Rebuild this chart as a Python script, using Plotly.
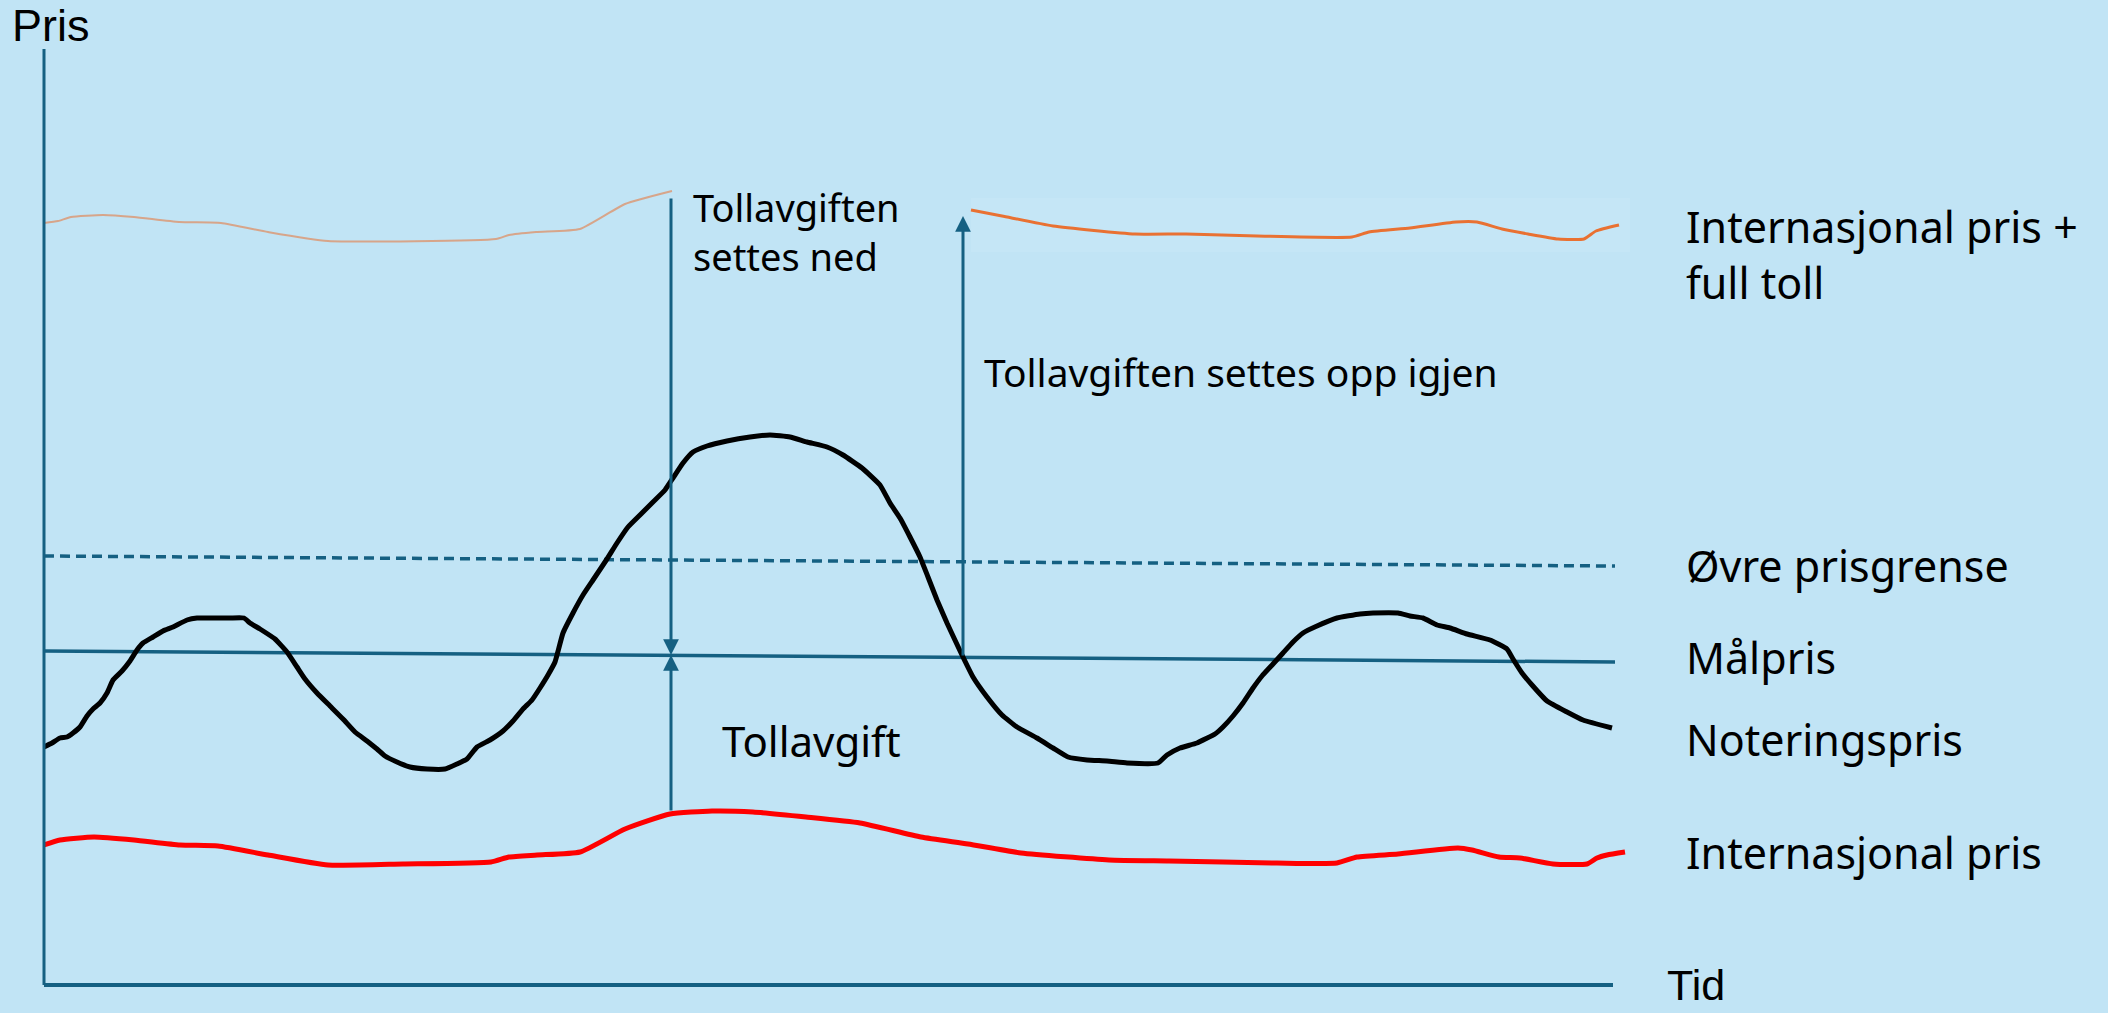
import plotly.graph_objects as go

# ---------------- data (time units, price units) ----------------
time_note = [0.0, 0.8, 1.6, 2.3, 2.9, 3.6, 4.3, 4.9, 5.6, 6.3,
             6.9, 7.8, 8.6, 9.3, 9.9, 10.9, 11.9, 12.9, 14.3, 15.3,
             16.9, 18.6, 20.0, 20.6, 21.6, 23.1, 24.3, 25.3, 26.1, 27.3,
             28.6, 29.9, 31.1, 32.3, 33.3, 34.1, 35.3, 36.6, 38.3, 40.1,
             41.3, 42.3, 43.3, 44.6, 45.9, 46.9, 47.9, 48.8, 49.6, 50.4,
             51.1, 51.9, 52.9, 53.9, 54.9, 56.3, 57.3, 58.4, 59.6, 60.9,
             62.1, 62.9, 63.9, 64.9, 66.3, 68.3, 70.6, 72.6, 74.6, 76.3,
             78.3, 79.9, 81.8, 83.6, 84.6, 85.6, 86.6, 87.6, 88.4, 89.3,
             90.3, 91.8, 92.9, 94.3, 95.8, 97.3, 99.3, 100.9, 102.4, 104.3,
             106.3, 108.3, 111.4, 112.3, 113.6, 115.3, 117.1, 117.9, 118.9, 119.9,
             120.9, 121.8, 122.9, 123.9, 124.9, 125.9, 127.3, 129.3, 131.6, 132.9,
             135.4, 136.6, 137.9, 139.3, 140.6, 142.3, 144.6, 146.3, 146.9, 147.8,
             148.8, 150.3, 152.3, 153.9, 156.8]
price_note = [23.8, 24.2, 24.7, 24.8, 25.2, 25.8, 26.9, 27.6, 28.2, 29.2,
              30.5, 31.4, 32.4, 33.5, 34.2, 34.8, 35.4, 35.8, 36.5, 36.7,
              36.7, 36.7, 36.7, 36.2, 35.6, 34.6, 33.3, 31.8, 30.6, 29.2,
              27.9, 26.6, 25.3, 24.4, 23.6, 22.9, 22.3, 21.8, 21.6, 21.6,
              22.1, 22.6, 23.8, 24.5, 25.4, 26.4, 27.6, 28.5, 29.7, 31.0,
              32.3, 35.2, 37.2, 39.0, 40.5, 42.6, 44.2, 45.8, 47.0, 48.3,
              49.5, 50.7, 52.2, 53.3, 53.9, 54.4, 54.8, 55.0, 54.8, 54.3,
              53.8, 53.0, 51.7, 50.0, 48.2, 46.7, 44.8, 42.8, 40.8, 38.5,
              36.2, 33.0, 30.8, 28.8, 27.0, 25.8, 24.7, 23.7, 22.8, 22.5,
              22.4, 22.2, 22.2, 23.0, 23.7, 24.2, 25.1, 25.8, 26.9, 28.2,
              29.7, 30.9, 32.1, 33.2, 34.3, 35.2, 35.9, 36.7, 37.1, 37.2,
              37.2, 36.9, 36.7, 36.0, 35.7, 35.1, 34.5, 33.6, 32.6, 31.2,
              30.0, 28.4, 27.3, 26.5, 25.7]

time_intl = [0.0, 1.6, 5.0, 9.0, 13.6, 17.4, 22.4, 28.4, 35.9, 44.7,
             46.5, 49.3, 53.6, 58.1, 62.6, 66.8, 70.9, 76.2, 81.6, 87.7,
             92.4, 97.7, 106.5, 112.5, 123.3, 129.3, 131.3, 135.4, 141.4, 142.8,
             145.5, 147.6, 150.9, 154.3, 155.3, 156.3, 158.1]
price_intl = [14.0, 14.5, 14.8, 14.5, 14.0, 13.9, 13.0, 12.0, 12.1, 12.3,
              12.8, 13.0, 13.3, 15.6, 17.1, 17.4, 17.3, 16.8, 16.2, 14.8,
              14.1, 13.2, 12.5, 12.4, 12.2, 12.2, 12.8, 13.1, 13.7, 13.5,
              12.8, 12.7, 12.1, 12.1, 12.7, 13.0, 13.3]

time_full_a = [0.0, 1.4, 2.7, 5.9, 9.0, 13.5, 17.7, 22.4, 28.4, 45.2, 46.5, 49.2, 53.6, 58.1, 62.8]
price_full_a = [76.2, 76.4, 76.8, 77.0, 76.8, 76.3, 76.2, 75.3, 74.4, 74.6, 75.0, 75.3, 75.6, 78.1, 79.4]

time_full_b = [92.7, 95.8, 100.9, 109.1, 114.2, 121.3, 130.8, 132.5, 136.6, 141.2,
               143.3, 145.8, 148.4, 151.4, 154.0, 155.2, 157.5]
price_full_b = [77.5, 76.9, 75.9, 75.1, 75.1, 74.9, 74.8, 75.3, 75.7, 76.3,
                76.3, 75.6, 75.1, 74.6, 74.6, 75.4, 76.0]

time_limits = [0.0, 157.1]
price_target = [33.4, 32.3]      # Målpris
price_upper = [42.9, 41.9]       # Øvre prisgrense

arrow_time = [62.7, 62.7, 91.9]
arrow_from = [78.8, 17.3, 32.8]
arrow_to = [33.0, 33.0, 76.9]

X_MAX = 158.6
Y_MAX = 93.6
AXIS_END = 156.9

BG = "#C1E4F5"
BLUE = "#156082"
ORANGE = "#E97132"
FONT = "Noto Sans"

fig = go.Figure()

fig.add_trace(go.Scatter(x=time_limits, y=price_upper, mode="lines",
                         line=dict(color=BLUE, width=3.5, dash="10px,6px"), hoverinfo="skip"))
fig.add_trace(go.Scatter(x=time_limits, y=price_target, mode="lines",
                         line=dict(color=BLUE, width=3.5), hoverinfo="skip"))
fig.add_trace(go.Scatter(x=time_full_a, y=price_full_a, mode="lines",
                         line=dict(color="rgba(233,113,50,0.55)", width=2, shape="spline", smoothing=0.5),
                         hoverinfo="skip"))
fig.add_trace(go.Scatter(x=time_full_b, y=price_full_b, mode="lines",
                         line=dict(color=ORANGE, width=3, shape="spline", smoothing=0.5), hoverinfo="skip"))
fig.add_trace(go.Scatter(x=time_intl, y=price_intl, mode="lines",
                         line=dict(color="#FF0000", width=5, shape="spline", smoothing=0.5), hoverinfo="skip"))
fig.add_trace(go.Scatter(x=time_note, y=price_note, mode="lines",
                         line=dict(color="#000000", width=5, shape="spline", smoothing=0.4), hoverinfo="skip"))

annotations = []
for t, a, b in zip(arrow_time, arrow_from, arrow_to):
    annotations.append(dict(x=t, y=b, ax=t, ay=a, xref="x", yref="y", axref="x", ayref="y",
                            showarrow=True, arrowhead=2, arrowsize=1.05, arrowwidth=3,
                            arrowcolor=BLUE, text="", standoff=0))


def label(text, x, y, size, xref="paper", yref="y", family=FONT, yanchor="middle"):
    annotations.append(dict(text=text, x=x, y=y, xref=xref, yref=yref, showarrow=False,
                            xanchor="left", yanchor=yanchor, align="left",
                            font=dict(family=family, size=size, color="#000000")))


label("Internasjonal pris +<br>full toll", 1.0340, 73.1, 43)
label("Øvre prisgrense", 1.0340, 42.0, 43)
label("Målpris", 1.0340, 32.8, 43)
label("Noteringspris", 1.0340, 24.6, 43)
label("Internasjonal pris", 1.0340, 13.3, 43)
label("Tollavgiften<br>settes ned", 64.7, 75.4, 38, xref="x")
label("Tollavgiften settes opp igjen", 93.8, 61.4, 39, xref="x")
label("Tollavgift", 67.6, 24.5, 42, xref="x")
label("Pris", -0.0215, 1.0250, 45, yref="paper", family="Liberation Sans")
label("Tid", 1.0220, -0.0280, 43, yref="paper", family="Liberation Sans", yanchor="bottom")

shapes = [
    # faint lighter patch behind the restored-tariff line
    dict(type="rect", xref="x", yref="y", x0=92.7, x1=X_MAX, y0=73.3, y1=78.7,
         fillcolor="#C5E6F6", line=dict(width=0), layer="below"),
    # axes
    dict(type="line", xref="paper", yref="paper", x0=0, x1=0, y0=0, y1=1,
         line=dict(color=BLUE, width=3)),
    dict(type="line", xref="paper", yref="paper", x0=0, x1=AXIS_END / X_MAX, y0=0, y1=0,
         line=dict(color=BLUE, width=4)),
]

fig.update_layout(
    width=2108, height=1013, autosize=False,
    margin=dict(l=44, r=478, t=49, b=28, pad=0),
    paper_bgcolor=BG, plot_bgcolor=BG,
    showlegend=False,
    xaxis=dict(range=[0, X_MAX], visible=False, fixedrange=True),
    yaxis=dict(range=[0, Y_MAX], visible=False, fixedrange=True),
    annotations=annotations,
    shapes=shapes,
)

fig.write_html("out.html", config={"displayModeBar": False},
               post_script="document.body.style.margin='0';document.body.style.overflow='hidden';"
                           "document.body.style.background='" + BG + "';")
